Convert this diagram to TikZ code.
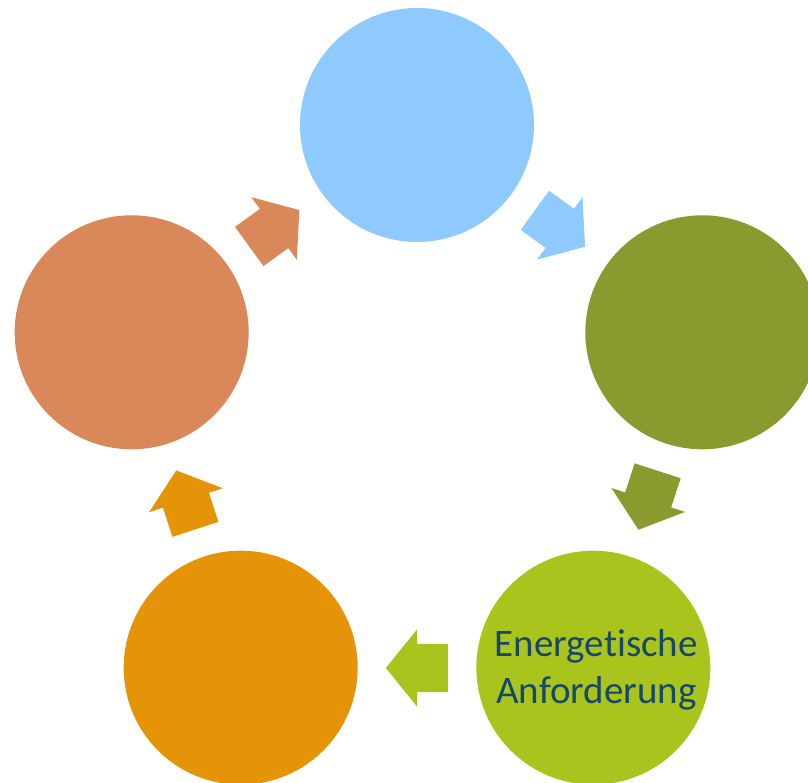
\documentclass[tikz,border=0pt]{standalone}
\usepackage{fontspec}
\setmainfont{Carlito}[Ligatures=NoCommon]
\usetikzlibrary{shapes.arrows,calc}
\definecolor{kreisblau}{HTML}{8FCAFF}
\definecolor{kreisoliv}{HTML}{8B9A2E}
\definecolor{kreisgruen}{HTML}{A9C51D}
\definecolor{kreisorange}{HTML}{E59407}
\definecolor{kreislachs}{HTML}{D98959}
\definecolor{schrift}{HTML}{17476A}
\tikzset{
	kreis/.style={circle,minimum size=234pt,inner sep=0pt},
	pfeil/.style={single arrow,anchor=tail,minimum height=62pt,inner xsep=0pt,inner ysep=24pt,
		single arrow head extend=14.5pt,single arrow tip angle=102}
}
\begin{document}
\begin{tikzpicture}[x=1pt,y=1pt]
		\useasboundingbox (0,0) rectangle (808,783);
		\coordinate (mitte) at (417,358);
		%Kreise
		\node [kreis,fill=kreisblau] (oben) at ([shift={(90:300)}]mitte) {};
		\node [kreis,fill=kreisoliv] (rechts) at ([shift={(18:300)}]mitte) {};
		\node [kreis,fill=kreisgruen] (untenrechts) at ([shift={(-54:300)}]mitte) {};
		\node [text=schrift,align=center,font=\fontsize{39}{47}\selectfont] (text) at ([xshift=3pt,yshift=-2pt]untenrechts) {Energetische\\Anforderung};
		\node [kreis,fill=kreisorange] (untenlinks) at ([shift={(-126:300)}]mitte) {};
		\node [kreis,fill=kreislachs] (links) at ([shift={(162:300)}]mitte) {};
		%Pfeile
		\node [pfeil,fill=kreisblau,rotate=-36] (p1) at ($(mitte)+(54:243)+(144:31)$) {};
		\node [pfeil,fill=kreisoliv,rotate=-108] (p2) at ($(mitte)+(-18:243)+(72:31)$) {};
		\node [pfeil,fill=kreisgruen,rotate=180] (p3) at ($(mitte)+(-90:243)+(0:31)$) {};
		\node [pfeil,fill=kreisorange,rotate=108] (p4) at ($(mitte)+(-162:243)+(-72:31)$) {};
		\node [pfeil,fill=kreislachs,rotate=36] (p5) at ($(mitte)+(126:243)+(216:31)$) {};
\end{tikzpicture}
\end{document}
